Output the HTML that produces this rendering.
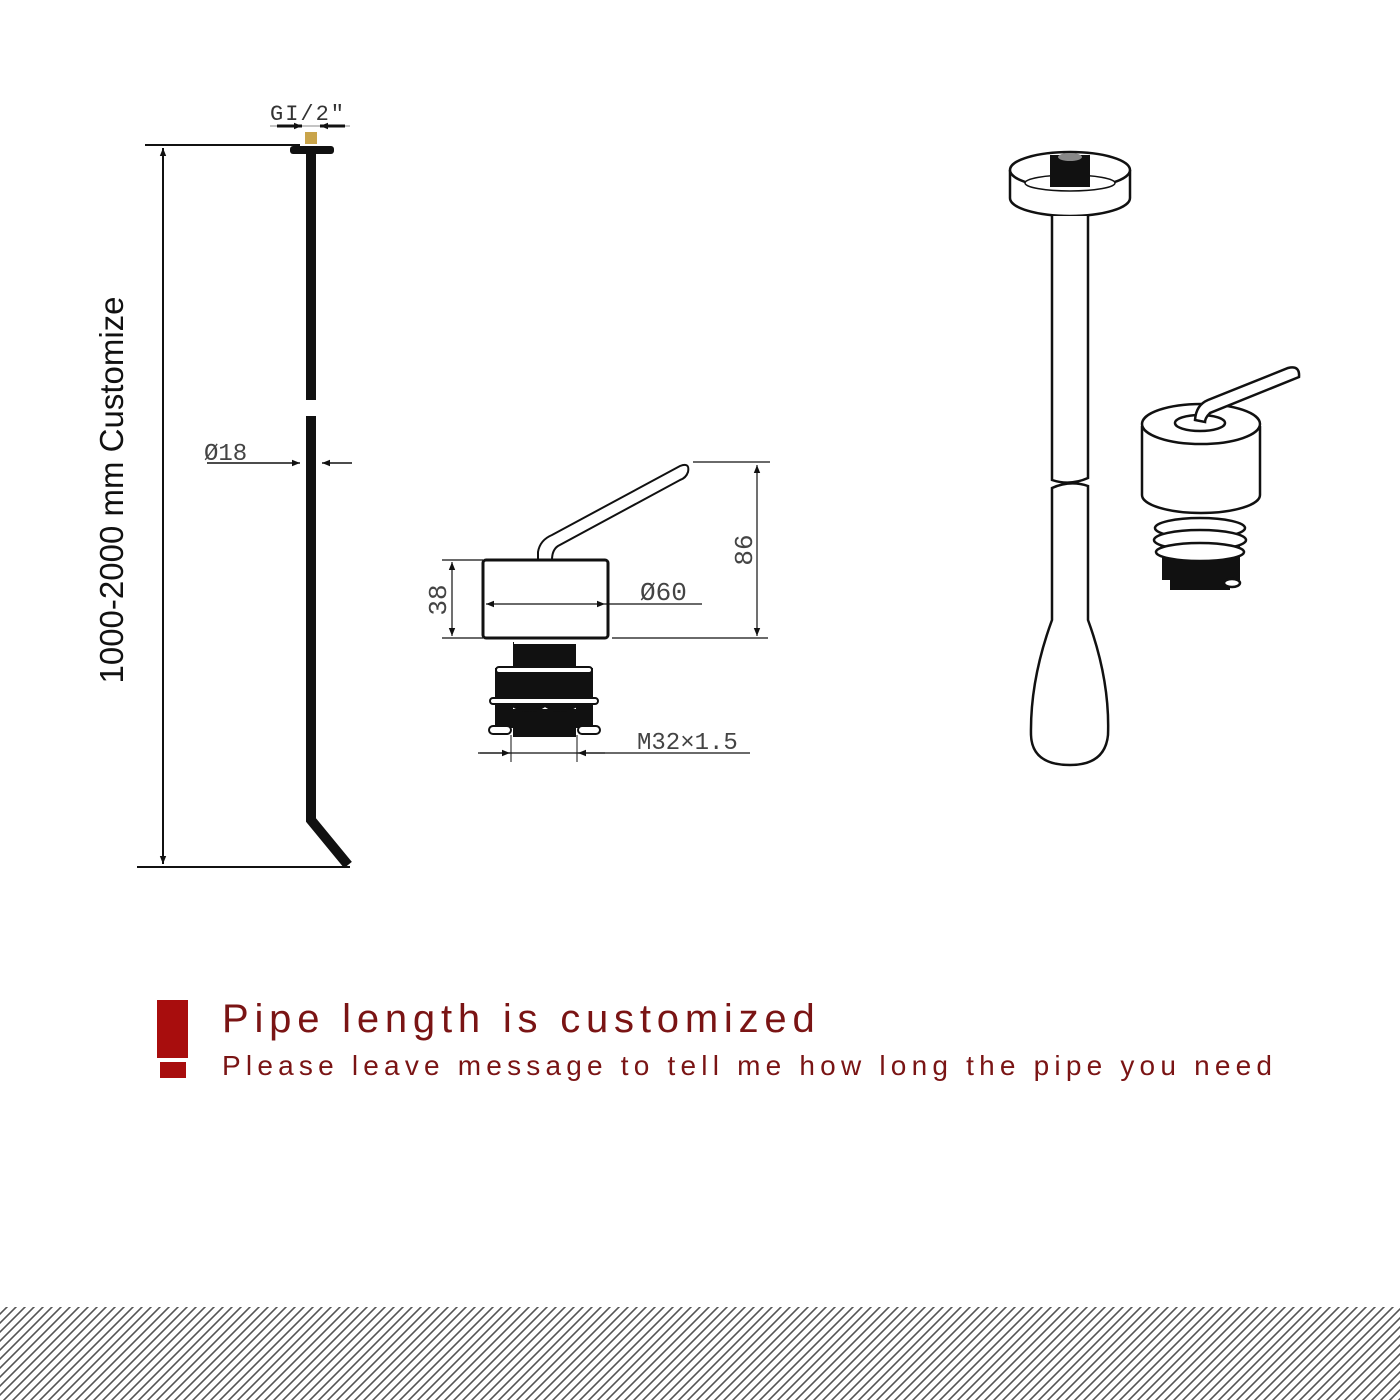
<!DOCTYPE html>
<html><head><meta charset="utf-8"><style>
html,body{margin:0;padding:0;background:#fff;}
svg{display:block;}
</style></head><body>
<svg width="1400" height="1400" viewBox="0 0 1400 1400" xmlns="http://www.w3.org/2000/svg">
<defs>
<pattern id="h" width="9" height="9" patternUnits="userSpaceOnUse">
<path d="M-1,10 L10,-1 M-5,5 L5,-5 M4,14 L14,4" stroke="#555" stroke-width="1.6"/>
</pattern>
<marker id="a" viewBox="0 0 10 10" refX="10" refY="5" markerWidth="14" markerHeight="8" orient="auto-start-reverse" markerUnits="userSpaceOnUse"><path d="M0,1 L10,5 L0,9z" fill="#111"/></marker>
</defs>
<rect x="0" y="1307" width="1400" height="93" fill="url(#h)"/>

<g stroke="#111" fill="none">
<line x1="145" y1="145" x2="300" y2="145" stroke-width="2"/>
<line x1="137" y1="867" x2="350" y2="867" stroke-width="2"/>
<line x1="163" y1="148" x2="163" y2="864" stroke-width="2" marker-start="url(#a)" marker-end="url(#a)"/>
<path d="M311,152 L311,400 M311,416 L311,820 L348,865" stroke-width="10"/>
<line x1="270" y1="126" x2="350" y2="126" stroke-width="1" stroke="#888"/>
<line x1="277" y1="126" x2="302" y2="126" stroke-width="3" marker-end="url(#a)"/>
<line x1="345" y1="126" x2="320" y2="126" stroke-width="3" marker-end="url(#a)"/>
<line x1="207" y1="463" x2="300" y2="463" stroke-width="1.5" marker-end="url(#a)"/>
<line x1="352" y1="463" x2="322" y2="463" stroke-width="1.5" marker-end="url(#a)"/>
</g>
<rect x="290" y="146" width="44" height="8" rx="3" fill="#111"/>
<rect x="305" y="132" width="12" height="12" fill="#c9a44a"/>
<text x="270" y="120" font-family="Liberation Mono, monospace" font-size="22" fill="#333" letter-spacing="2">GI/2"</text>
<text x="204" y="460" font-family="Liberation Mono, monospace" font-size="24" fill="#444">Ø18</text>
<text transform="translate(123,490) rotate(-90)" text-anchor="middle" font-family="Liberation Sans, sans-serif" font-size="33" fill="#111">1000-2000 mm Customize</text>

<g stroke="#111" fill="none" stroke-width="2">
<path d="M538,560 L538,552 Q540,540 552,535 L680,466 Q690,462 688,472 Q686,478 680,480 L558,546 Q552,550 552,560" fill="#fff"/>
<rect x="483" y="560" width="125" height="78" rx="3" fill="#fff" stroke-width="3"/>
<line x1="442" y1="560" x2="483" y2="560" stroke-width="1.2"/>
<line x1="442" y1="638" x2="483" y2="638" stroke-width="1.2"/>
<line x1="452" y1="562" x2="452" y2="636" stroke-width="1.2" marker-start="url(#a)" marker-end="url(#a)"/>
<line x1="486" y1="604" x2="605" y2="604" stroke-width="1.2" marker-start="url(#a)" marker-end="url(#a)"/>
<line x1="605" y1="604" x2="702" y2="604" stroke-width="1.2"/>
<line x1="693" y1="462" x2="770" y2="462" stroke-width="1.2"/>
<line x1="612" y1="638" x2="768" y2="638" stroke-width="1.2"/>
<line x1="757" y1="465" x2="757" y2="636" stroke-width="1.2" marker-start="url(#a)" marker-end="url(#a)"/>
<line x1="478" y1="753" x2="750" y2="753" stroke-width="1.2"/>
<line x1="480" y1="753" x2="510" y2="753" stroke-width="1.2" marker-end="url(#a)"/>
<line x1="605" y1="753" x2="578" y2="753" stroke-width="1.2" marker-end="url(#a)"/>
<line x1="511" y1="735" x2="511" y2="762" stroke-width="1"/>
<line x1="577" y1="735" x2="577" y2="762" stroke-width="1"/>
</g>
<rect x="513" y="642" width="63" height="95" fill="#111"/>
<rect x="495" y="668" width="98" height="60" fill="#111"/>
<g fill="#fff" stroke="#111" stroke-width="2">
<rect x="496" y="667" width="96" height="6" rx="3"/>
<rect x="490" y="698" width="108" height="6" rx="3"/>
<rect x="489" y="726" width="22" height="8" rx="4"/>
<rect x="578" y="726" width="22" height="8" rx="4"/>
<path d="M512,706 Q530,716 545,706 Q560,716 577,706 L577,710 L512,710z"/>
</g>
<rect x="514" y="640" width="62" height="4" fill="#fff"/>
<text transform="translate(446,600) rotate(-90)" text-anchor="middle" font-family="Liberation Mono, monospace" font-size="26" fill="#444">38</text>
<text x="640" y="600" font-family="Liberation Mono, monospace" font-size="26" fill="#444">Ø60</text>
<text transform="translate(752,550) rotate(-90)" text-anchor="middle" font-family="Liberation Mono, monospace" font-size="26" fill="#444">86</text>
<text x="637" y="749" font-family="Liberation Mono, monospace" font-size="24" fill="#444">M32×1.5</text>

<g stroke="#111" stroke-width="2.5" fill="#fff">
<path d="M1010,170 L1010,198 A60,18 0 0 0 1130,198 L1130,170"/>
<ellipse cx="1070" cy="170" rx="60" ry="18"/>
<ellipse cx="1070" cy="183" rx="45" ry="8" stroke-width="1.5"/>
<rect x="1050" y="155" width="40" height="32" fill="#111" stroke="none"/>
<ellipse cx="1070" cy="157" rx="12" ry="4" fill="#888" stroke="none"/>
<path d="M1052,216 L1052,480 Q1070,486 1088,478 L1088,216"/>
<path d="M1052,488 Q1070,480 1088,486 L1088,620 Q1110,680 1108,735 Q1105,765 1070,765 Q1032,765 1031,735 Q1030,680 1052,620 Z"/>
<path d="M1162,530 L1162,580 L1240,580 L1240,530" fill="#111" stroke="none"/>
<ellipse cx="1200" cy="528" rx="45" ry="10"/>
<ellipse cx="1200" cy="540" rx="46" ry="10"/>
<ellipse cx="1200" cy="552" rx="44" ry="9"/>
<rect x="1170" y="560" width="60" height="30" fill="#111" stroke="none"/>
<ellipse cx="1232" cy="583" rx="8" ry="4"/>
<path d="M1142,426 L1142,495 A59,18 0 0 0 1260,495 L1260,426"/>
<ellipse cx="1201" cy="424" rx="59" ry="20"/>
<ellipse cx="1200" cy="423" rx="25" ry="8"/>
<path d="M1195,420 Q1196,405 1208,400 L1288,368 Q1300,365 1299,377 L1210,413 Q1205,418 1205,422 Z"/>
</g>

<rect x="157" y="1000" width="31" height="58" fill="#a80d0d"/>
<rect x="160" y="1062" width="26" height="16" fill="#a80d0d"/>
<text x="222" y="1032" font-family="Liberation Sans, sans-serif" font-size="40" fill="#7a1414" letter-spacing="3.3" textLength="596">Pipe length is customized</text>
<text x="222" y="1075" font-family="Liberation Sans, sans-serif" font-size="28" fill="#7a1414" textLength="1050">Please leave message to tell me how long the pipe you need</text>
</svg>
</body></html>
